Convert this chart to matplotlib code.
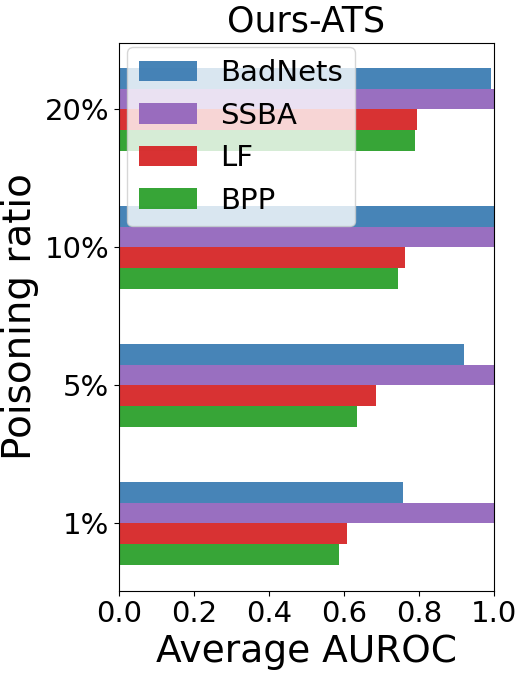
import matplotlib
matplotlib.use("Agg")
import matplotlib.pyplot as plt
import numpy as np

ratios = ["1%", "5%", "10%", "20%"]
series = ["BadNets", "SSBA", "LF", "BPP"]
badnets = [0.759, 0.920, 1.000, 0.994]
ssba = [1.000, 1.000, 1.000, 1.000]
lf = [0.609, 0.685, 0.764, 0.794]
bpp = [0.586, 0.636, 0.745, 0.790]
colors = ["#3d7db3", "#9467bd", "#d62728", "#2ca02c"]

fig = plt.figure(figsize=(5.23, 6.73), dpi=100)
ax = fig.add_axes([0.2275, 0.1223, 0.7165, 0.8143])
y = np.arange(len(ratios))
h = 0.15
offsets = [1.5, 0.5, -0.5, -1.5]
for vals, name, c, off in zip([badnets, ssba, lf, bpp], series, colors, offsets):
    ax.barh(y + off * h, vals, height=h, color=c, alpha=0.95, label=name)
ax.set_yticks(y)
ax.set_yticklabels(ratios, fontsize=21)
ax.set_xlim(0, 1.0)
ax.set_ylim(-0.488, 3.483)
ax.set_xticks([0.0, 0.2, 0.4, 0.6, 0.8, 1.0])
ax.tick_params(axis='x', labelsize=21)
ax.set_xlabel("Average AUROC", fontsize=27)
ax.set_ylabel("Poisoning ratio", fontsize=28)
ax.set_title("Ours-ATS", fontsize=25, pad=8)
ax.legend(loc="upper left", fontsize=21, bbox_to_anchor=(0.0214, 0.9916),
          borderaxespad=0)
fig.savefig("out.png", dpi=100)
